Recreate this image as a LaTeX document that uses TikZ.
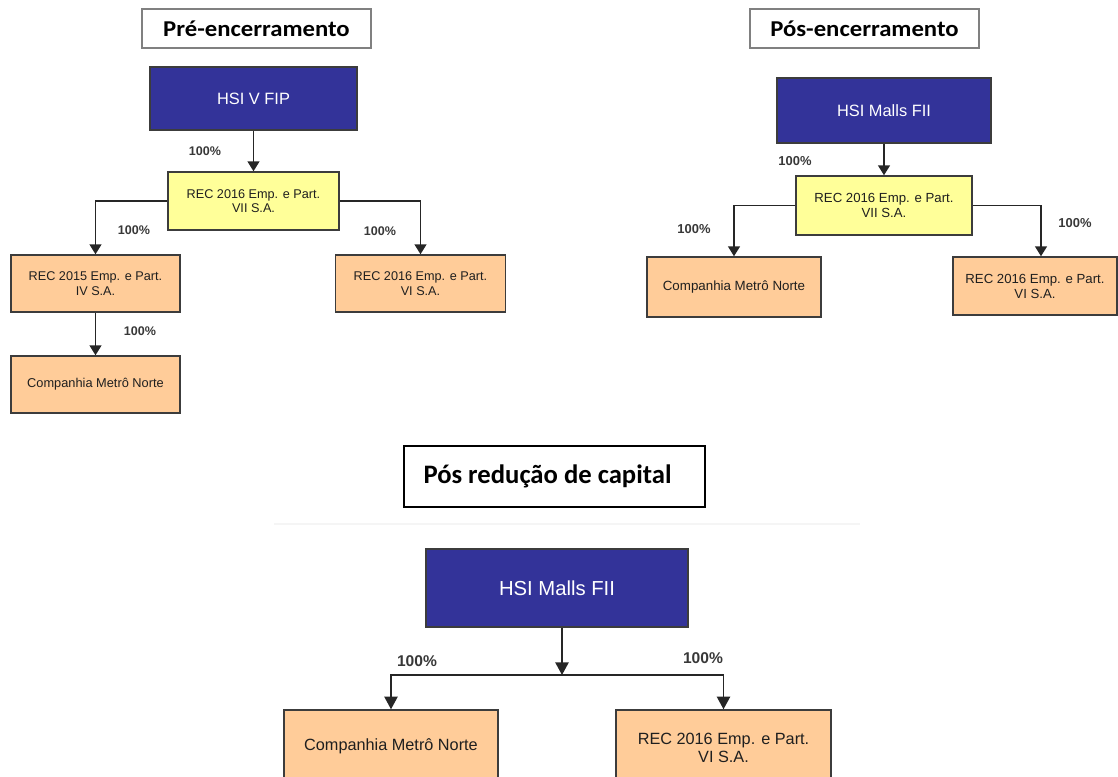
\documentclass[tikz,border=0pt]{standalone}
\usepackage{fontspec}
\setmainfont{Liberation Sans}
\newfontfamily\titlefont{Carlito}
\usetikzlibrary{arrows.meta}
\definecolor{hsiblue}{HTML}{333399}
\definecolor{recyellow}{HTML}{FFFF99}
\definecolor{recorange}{HTML}{FFCC99}
\definecolor{edgegray}{HTML}{3C3C3C}
\begin{document}
\begin{tikzpicture}[x=0.75pt,y=-0.75pt,
  box/.style={draw=edgegray, line width=1.1pt, inner sep=0pt, align=center, text=black!88},
  fund/.style={box, fill=hsiblue, text=white},
  holding/.style={box, fill=recyellow},
  subsid/.style={box, fill=recorange},
  titlebox/.style={draw=gray, line width=1.1pt, inner sep=0pt, font=\titlefont\bfseries\fontsize{17}{20}\selectfont},
  link/.style={draw=black!85, line width=1.15pt},
  smalltip/.style={-{Triangle[width=9pt,length=7.5pt]}},
  bigtip/.style={-{Triangle[width=10pt,length=9.5pt]}},
  pct/.style={inner sep=0pt, text=black!78, font=\bfseries\fontsize{#1}{#1}\selectfont},
  fs/.style 2 args={font=\fontsize{#1}{#2}\selectfont},
]
\useasboundingbox (0,0) rectangle (1118,777);
\clip (0,0) rectangle (1118,777);

% ---------------- Pré-encerramento ----------------
\node[titlebox, minimum width=171.75pt, minimum height=29.25pt] (t1) at (256.5,28.5) {\scalebox{1.09}[1]{Pré-encerramento}};
\node[fund, fs={12.3}{14}, minimum width=155.25pt, minimum height=47.25pt] (a1) at (253.5,98.5) {HSI V FIP};
\node[holding, fs={9.5}{10.8}, minimum width=128.25pt, minimum height=43.5pt] (b1) at (253.5,201) {REC 2016 Emp. e Part.\\VII S.A.};
\node[subsid, fs={9.5}{10.8}, minimum width=126.75pt, minimum height=42.75pt] (c1) at (95.5,283.5) {REC 2015 Emp. e Part.\\IV S.A.};
\node[subsid, fs={9.5}{10.8}, minimum width=127.5pt, minimum height=42.75pt] (d1) at (420.5,283.5) {REC 2016 Emp. e Part.\\VI S.A.};
\node[subsid, fs={9.6}{11}, minimum width=126.75pt, minimum height=42.75pt] (e1) at (95.5,384.5) {Companhia Metrô Norte};

\draw[link, smalltip] (a1) -- (b1);
\draw[link, smalltip] (b1.west) -| (c1.north);
\draw[link, smalltip] (b1.east) -| (d1.north);
\draw[link, smalltip] (c1) -- (e1);

\node[pct=9.4] (p1a) at (205,151) {100\%};
\node[pct=9.4] (p1b) at (134,230) {100\%};
\node[pct=9.4] (p1c) at (380,231) {100\%};
\node[pct=9.4] (p1d) at (140,331) {100\%};

% ---------------- Pós-encerramento ----------------
\node[titlebox, minimum width=171.75pt, minimum height=29.25pt] (t2) at (864.5,28.5) {\scalebox{1.09}[1]{Pós-encerramento}};
\node[fund, fs={12.3}{14}, minimum width=160.5pt, minimum height=48.75pt] (a2) at (884,110.5) {HSI Malls FII};
\node[holding, fs={9.9}{11.2}, minimum width=132pt, minimum height=44.25pt] (b2) at (884,205.5) {REC 2016 Emp. e Part.\\VII S.A.};
\node[subsid, fs={10}{11.4}, minimum width=130.5pt, minimum height=45pt] (c2) at (734,287) {Companhia Metrô Norte};
\node[subsid, fs={9.9}{11.2}, minimum width=123pt, minimum height=43.5pt] (d2) at (1035,286) {REC 2016 Emp. e Part.\\VI S.A.};

\draw[link, smalltip] (a2) -- (b2);
\draw[link, smalltip] (b2.west) -| (c2.north);
\draw[link, smalltip] (b2.east) -| ([xshift=4.5pt]d2.north);

\node[pct=9.7] (p2a) at (795,161) {100\%};
\node[pct=9.7] (p2b) at (694,229) {100\%};
\node[pct=9.7] (p2c) at (1075,223) {100\%};

% ---------------- Pós redução de capital ----------------
\node[titlebox, draw=black, font=\titlefont\bfseries\fontsize{20}{24}\selectfont, minimum width=225.75pt, minimum height=45.75pt] (t3) at (554.5,476.5) {Pós redução de capital\kern10.5pt};
\draw[black!4, line width=1pt] (274,524) -- (860,524);

\node[fund, fs={15.2}{17}, minimum width=196.5pt, minimum height=58.5pt] (a3) at (557,588) {HSI Malls FII};
\node[subsid, fs={12.2}{13.9}, minimum width=160.5pt, minimum height=54pt] (c3) at (391,746) {Companhia Metrô Norte};
\node[subsid, fs={12.2}{13.9}, minimum width=161.25pt, minimum height=57pt] (d3) at (723.5,748) {REC 2016 Emp. e Part.\\VI S.A.};

\coordinate (j3) at (562,675);
\draw[link, bigtip] (a3.south -| j3) -- (j3);
\draw[link, bigtip] (j3) -| (c3.north);
\draw[link, bigtip] (j3) -| (d3.north);

\node[pct=11.7] (p3a) at (417,661) {100\%};
\node[pct=11.7] (p3b) at (703,658) {100\%};
\end{tikzpicture}
\end{document}
